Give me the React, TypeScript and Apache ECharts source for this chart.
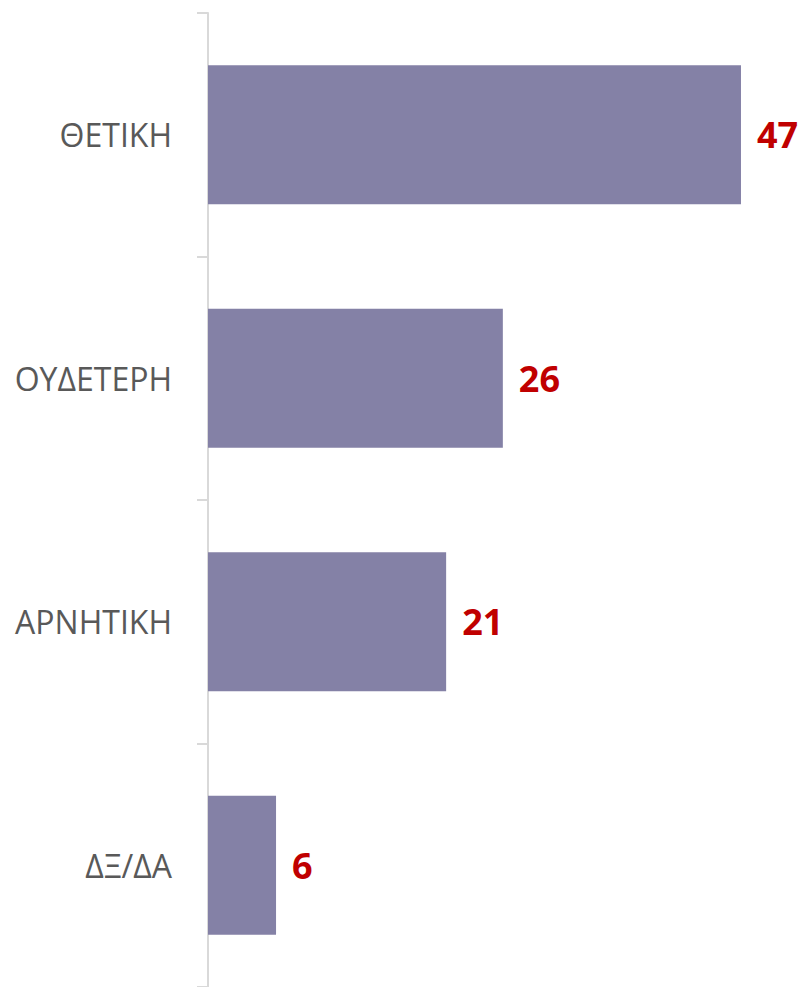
import React, { useEffect, useRef } from "react";
import * as echarts from "echarts";

const categories = ["ΘΕΤΙΚΗ", "ΟΥΔΕΤΕΡΗ", "ΑΡΝΗΤΙΚΗ", "ΔΞ/ΔΑ"];
const values = [47, 26, 21, 6];

export default function App() {
  const ref = useRef<HTMLDivElement>(null);
  useEffect(() => {
    document.body.style.margin = "0";
    const chart = echarts.init(ref.current!, null, { renderer: "svg" });
    chart.setOption({
      animation: false,
      grid: { left: 208, top: 13, width: 567, height: 976 },
      xAxis: {
        type: "value",
        min: 0,
        max: 50,
        show: false,
      },
      yAxis: {
        type: "category",
        inverse: true,
        data: categories,
        axisLine: { show: true, lineStyle: { color: "#d9d9d9", width: 2 } },
        axisTick: { show: true, length: 11, lineStyle: { color: "#d9d9d9", width: 2 } },
        axisLabel: {
          margin: 36,
          color: "#595959",
          fontFamily: "Open Sans",
          fontSize: 32,
        },
        splitLine: { show: false },
      },
      series: [
        {
          type: "bar",
          data: values,
          barWidth: 139,
          itemStyle: { color: "#8481a6" },
          label: {
            show: true,
            position: "right",
            distance: 16,
            color: "#c00000",
            fontFamily: "Open Sans",
            fontWeight: "bold",
            fontSize: 36,
          },
        },
      ],
    });
    return () => chart.dispose();
  }, []);
  return <div ref={ref} style={{ width: 800, height: 987 }} />;
}
